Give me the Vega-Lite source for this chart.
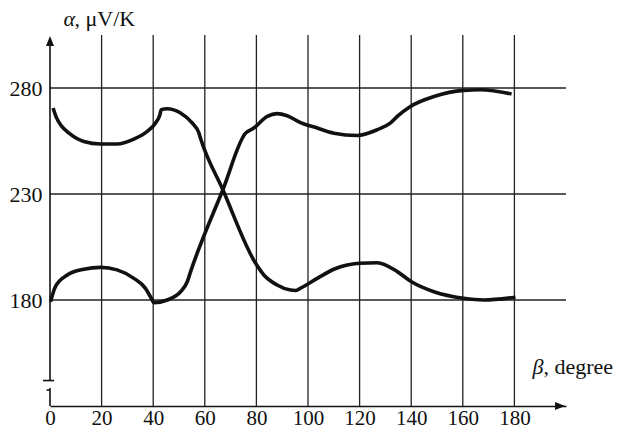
{
  "$schema": "https://vega.github.io/schema/vega-lite/v6.json",
  "width": 516,
  "height": 371,
  "autosize": {"type": "none"},
  "padding": {"left": 50, "top": 35, "right": 53, "bottom": 23},
  "background": "white",
  "config": {"view": {"stroke": null}, "font": "Liberation Serif"},
  "datasets": {
    "curves": [
      {"s": "A", "x": 1.2, "y": 270.6}, {"s": "A", "x": 2.5, "y": 266}, {"s": "A", "x": 4.5, "y": 262}, {"s": "A", "x": 7.5, "y": 258.6},
      {"s": "A", "x": 13.1, "y": 254.8}, {"s": "A", "x": 19.6, "y": 253.6}, {"s": "A", "x": 26, "y": 253.6},
      {"s": "A", "x": 32.5, "y": 255.9}, {"s": "A", "x": 37.7, "y": 259.5}, {"s": "A", "x": 40.9, "y": 263.5},
      {"s": "A", "x": 42.6, "y": 267.4}, {"s": "A", "x": 43.1, "y": 269.8}, {"s": "A", "x": 45.4, "y": 270.2},
      {"s": "A", "x": 50.6, "y": 268.2}, {"s": "A", "x": 55.1, "y": 263.5}, {"s": "A", "x": 57.7, "y": 258.8},
      {"s": "A", "x": 58.3, "y": 256.4}, {"s": "A", "x": 67, "y": 232}, {"s": "A", "x": 79.7, "y": 197.3},
      {"s": "A", "x": 82.9, "y": 191.8}, {"s": "A", "x": 88, "y": 187.1}, {"s": "A", "x": 93.2, "y": 184.7},
      {"s": "A", "x": 95.2, "y": 184.5}, {"s": "A", "x": 97, "y": 185.5}, {"s": "A", "x": 103.6, "y": 190.2},
      {"s": "A", "x": 110, "y": 194.5}, {"s": "A", "x": 120, "y": 197.3}, {"s": "A", "x": 126.8, "y": 197.6},
      {"s": "A", "x": 134.6, "y": 193.4}, {"s": "A", "x": 140.1, "y": 188.6}, {"s": "A", "x": 148.8, "y": 183.9},
      {"s": "A", "x": 160.3, "y": 180.8}, {"s": "A", "x": 168.1, "y": 180}, {"s": "A", "x": 180.4, "y": 181.3},
      {"s": "B", "x": 0.2, "y": 179.2}, {"s": "B", "x": 2.1, "y": 186.3}, {"s": "B", "x": 6.7, "y": 191.8},
      {"s": "B", "x": 13.1, "y": 194.5}, {"s": "B", "x": 19.6, "y": 195.4}, {"s": "B", "x": 26, "y": 194.2},
      {"s": "B", "x": 32.5, "y": 190.2}, {"s": "B", "x": 37, "y": 185.5}, {"s": "B", "x": 39.6, "y": 180},
      {"s": "B", "x": 40.2, "y": 178.7}, {"s": "B", "x": 45.4, "y": 180}, {"s": "B", "x": 50.6, "y": 183.9},
      {"s": "B", "x": 53.2, "y": 188.6}, {"s": "B", "x": 54.5, "y": 193.4}, {"s": "B", "x": 67, "y": 232},
      {"s": "B", "x": 75.8, "y": 258.7}, {"s": "B", "x": 79, "y": 261.1}, {"s": "B", "x": 84.2, "y": 266.6},
      {"s": "B", "x": 88, "y": 267.9}, {"s": "B", "x": 91.9, "y": 266.9}, {"s": "B", "x": 97.1, "y": 263.7},
      {"s": "B", "x": 103.6, "y": 261.1}, {"s": "B", "x": 110, "y": 258.7}, {"s": "B", "x": 119.1, "y": 257.6},
      {"s": "B", "x": 126.8, "y": 260.3}, {"s": "B", "x": 132, "y": 263.5}, {"s": "B", "x": 134.6, "y": 266.6},
      {"s": "B", "x": 139.7, "y": 271.3}, {"s": "B", "x": 148.8, "y": 276}, {"s": "B", "x": 160.3, "y": 278.9},
      {"s": "B", "x": 166.9, "y": 279.2}, {"s": "B", "x": 178.9, "y": 277.2}
    ]
  },
  "layer": [
    {
      "data": {"values": [{"v": 180}, {"v": 230}, {"v": 280}]},
      "mark": {"type": "rule", "color": "#222", "strokeWidth": 1.3},
      "encoding": {
        "y": {"field": "v", "type": "quantitative", "scale": {"domain": [130, 305], "nice": false, "zero": false}, "axis": null},
        "x": {"datum": 0, "type": "quantitative", "scale": {"domain": [0, 200], "nice": false, "zero": false}, "axis": null},
        "x2": {"datum": 200}
      }
    },
    {
      "data": {"values": [{"v": 20}, {"v": 40}, {"v": 60}, {"v": 80}, {"v": 100}, {"v": 120}, {"v": 140}, {"v": 160}, {"v": 180}]},
      "mark": {"type": "rule", "color": "#222", "strokeWidth": 1.3},
      "encoding": {
        "x": {"field": "v", "type": "quantitative", "scale": {"domain": [0, 200], "nice": false, "zero": false}, "axis": null},
        "y": {"datum": 130, "type": "quantitative", "scale": {"domain": [130, 305], "nice": false, "zero": false}, "axis": null},
        "y2": {"datum": 305}
      }
    },
    {
      "data": {"values": [
        {"x": 0, "x2": 0, "y": 142, "y2": 302},
        {"x": -2.7, "x2": 1.6, "y": 142, "y2": 142},
        {"x": 0, "x2": 0, "y": 130, "y2": 138.5},
        {"x": -1.3, "x2": 0, "y": 137.5, "y2": 137.5}
      ]},
      "mark": {"type": "rule", "color": "#111", "strokeWidth": 1.6},
      "encoding": {
        "x": {"field": "x", "type": "quantitative", "scale": {"domain": [0, 200], "nice": false, "zero": false}, "axis": null},
        "x2": {"field": "x2"},
        "y": {"field": "y", "type": "quantitative", "scale": {"domain": [130, 305], "nice": false, "zero": false}, "axis": null},
        "y2": {"field": "y2"}
      }
    },
    {
      "data": {"values": [{"axis": "x", "x": 197.7, "y": 130}]},
      "mark": {"type": "point", "shape": "M1,0L-1,-0.8L-1,0.8Z", "size": 100, "filled": true, "color": "#111", "opacity": 1},
      "encoding": {
        "x": {"field": "x", "type": "quantitative", "scale": {"domain": [0, 200], "nice": false, "zero": false}, "axis": null},
        "y": {"field": "y", "type": "quantitative", "scale": {"domain": [130, 305], "nice": false, "zero": false}, "axis": null}
      }
    },
    {
      "data": {"values": [{"axis": "y", "x": 0, "y": 302.2}]},
      "mark": {"type": "point", "shape": "M0,-1L-0.8,1L0.8,1Z", "size": 100, "filled": true, "color": "#111", "opacity": 1},
      "encoding": {
        "x": {"field": "x", "type": "quantitative", "scale": {"domain": [0, 200], "nice": false, "zero": false}, "axis": null},
        "y": {"field": "y", "type": "quantitative", "scale": {"domain": [130, 305], "nice": false, "zero": false}, "axis": null}
      }
    },
    {
      "data": {"name": "curves"},
      "mark": {"type": "line", "color": "#111", "strokeWidth": 3.6, "interpolate": "monotone", "strokeCap": "butt"},
      "encoding": {
        "x": {
          "field": "x", "type": "quantitative",
          "scale": {"domain": [0, 200], "nice": false, "zero": false},
          "axis": {
            "values": [0, 20, 40, 60, 80, 100, 120, 140, 160, 180],
            "domain": true, "domainColor": "#111", "domainWidth": 1.6,
            "ticks": false, "grid": false, "labelFlush": false,
            "labelFont": "Liberation Serif", "labelFontSize": 21, "labelColor": "#111", "labelPadding": 1,
            "title": "β", "titleFont": "Liberation Serif", "titleFontSize": 22, "titleFontStyle": "italic",
            "titleFontWeight": "normal", "titleColor": "#111",
            "titleX": 482, "titleY": -33, "titleAlign": "left", "titleBaseline": "alphabetic"
          }
        },
        "y": {
          "field": "y", "type": "quantitative",
          "scale": {"domain": [130, 305], "nice": false, "zero": false},
          "axis": {
            "values": [180, 230, 280],
            "domain": false, "ticks": false, "grid": false,
            "labelFont": "Liberation Serif", "labelFontSize": 22, "labelColor": "#111", "labelPadding": 8,
            "title": "α", "titleFont": "Liberation Serif", "titleFontSize": 22, "titleFontStyle": "italic",
            "titleFontWeight": "normal", "titleColor": "#111", "titleAngle": 0,
            "titleX": 13, "titleY": -10, "titleAlign": "left", "titleBaseline": "alphabetic"
          }
        },
        "detail": {"field": "s"}
      }
    },
    {
      "data": {"name": "curves"},
      "mark": {"type": "point", "opacity": 0},
      "encoding": {
        "x": {
          "field": "x", "type": "quantitative",
          "scale": {"domain": [0, 200], "nice": false, "zero": false},
          "axis": {
            "orient": "top", "labels": false, "domain": false, "ticks": false, "grid": false,
            "title": ", degree", "titleFont": "Liberation Serif", "titleFontSize": 22, "titleFontStyle": "normal",
            "titleFontWeight": "normal", "titleColor": "#111",
            "titleX": 493, "titleY": 338, "titleAlign": "left", "titleBaseline": "alphabetic"
          }
        },
        "y": {
          "field": "y", "type": "quantitative",
          "scale": {"domain": [130, 305], "nice": false, "zero": false},
          "axis": {
            "orient": "right", "labels": false, "domain": false, "ticks": false, "grid": false,
            "title": ", μV/K", "titleFont": "Liberation Serif", "titleFontSize": 22, "titleFontStyle": "normal",
            "titleFontWeight": "normal", "titleColor": "#111", "titleAngle": 0,
            "titleX": -492, "titleY": -10, "titleAlign": "left", "titleBaseline": "alphabetic"
          }
        }
      }
    }
  ],
  "resolve": {"axis": {"x": "independent", "y": "independent"}}
}
